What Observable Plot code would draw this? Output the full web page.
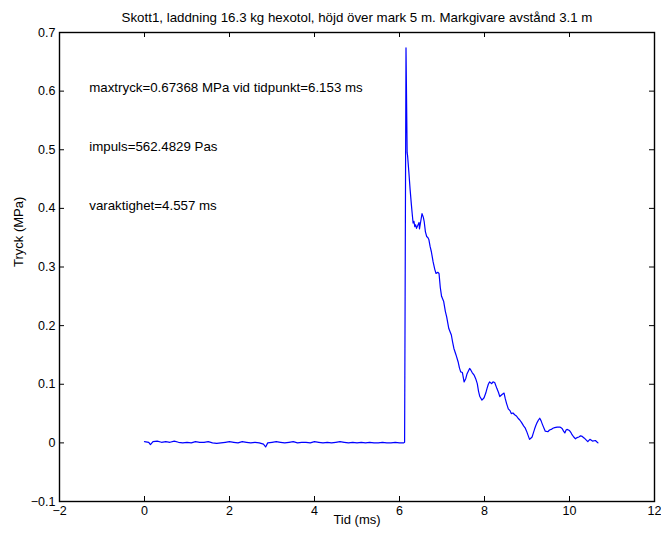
<!DOCTYPE html>
<html>
<head>
<meta charset="utf-8">
<script src="https://cdn.jsdelivr.net/npm/d3@7"></script>
<script src="https://cdn.jsdelivr.net/npm/@observablehq/plot@0.6"></script>
<style>
  html, body { margin: 0; padding: 0; background: #fff; }
</style>
</head>
<body>
<div id="chart"></div>
<script>
// Pressure trace, gauge at 3.1 m (time in ms, pressure in MPa)
const tid = [
  0.00, 0.10, 0.14, 0.20, 0.30, 0.40, 0.50, 0.60, 0.70, 0.80, 0.90,
  1.00, 1.10, 1.20, 1.30, 1.40, 1.50, 1.60, 1.70, 1.80, 1.90,
  2.00, 2.10, 2.20, 2.30, 2.40, 2.50, 2.60, 2.70, 2.80, 2.85, 2.90,
  3.00, 3.10, 3.20, 3.30, 3.40, 3.50, 3.60, 3.70, 3.80, 3.90,
  4.00, 4.10, 4.20, 4.30, 4.40, 4.50, 4.60, 4.70, 4.80, 4.90,
  5.00, 5.10, 5.20, 5.30, 5.40, 5.50, 5.60, 5.70, 5.80, 5.90,
  6.00, 6.10, 6.12, 6.153, 6.18, 6.19, 6.22, 6.25, 6.28, 6.30,
  6.32, 6.34, 6.36, 6.38, 6.40, 6.43, 6.46, 6.47, 6.50, 6.53,
  6.56, 6.58, 6.61, 6.64, 6.67, 6.69, 6.72, 6.75, 6.79, 6.83,
  6.86, 6.90, 6.93, 6.96, 6.99, 7.04, 7.08, 7.11, 7.16, 7.22,
  7.25, 7.28, 7.33, 7.38, 7.41, 7.44, 7.48, 7.52, 7.56, 7.59,
  7.65, 7.68, 7.71, 7.76, 7.80, 7.83, 7.86, 7.89, 7.94, 7.99,
  8.03, 8.06, 8.09, 8.12, 8.17, 8.20, 8.24, 8.29, 8.33, 8.36,
  8.42, 8.46, 8.49, 8.52, 8.56, 8.60, 8.63, 8.67, 8.71, 8.75,
  8.79, 8.83, 8.87, 8.92, 8.96, 8.99, 9.03, 9.06, 9.09, 9.12,
  9.15, 9.18, 9.21, 9.24, 9.27, 9.30, 9.33, 9.36, 9.40, 9.43,
  9.49, 9.53, 9.57, 9.61, 9.65, 9.71, 9.77, 9.80, 9.83, 9.86,
  9.89, 9.92, 9.94, 10.00, 10.03, 10.06, 10.10, 10.14, 10.18, 10.22,
  10.26, 10.30, 10.35, 10.39, 10.43, 10.48, 10.54, 10.61, 10.64, 10.67
];
const tryck = [
  0.002, 0.001, -0.003, 0.002, 0.003, 0.001, 0.002, 0.001, 0.003, 0.001, 0.000,
  0.001, 0.000, 0.002, 0.001, 0.001, 0.002, 0.000, -0.001, 0.000, 0.001,
  0.002, 0.001, 0.000, 0.002, 0.001, 0.000, 0.001, 0.000, -0.002, -0.007, 0.000,
  0.001, 0.002, 0.001, 0.000, 0.001, 0.002, 0.000, 0.001, 0.001, 0.000,
  0.002, 0.001, 0.000, 0.001, 0.000, 0.001, 0.002, 0.001, 0.000, 0.001,
  0.000, 0.001, 0.000, 0.001, 0.000, 0.000, 0.001, 0.000, 0.000, 0.001,
  0.000, 0.000, 0.001, 0.67368, 0.495, 0.490, 0.462, 0.432, 0.406, 0.390,
  0.375, 0.378, 0.369, 0.372, 0.366, 0.371, 0.376, 0.365, 0.378, 0.391,
  0.385, 0.378, 0.360, 0.352, 0.350, 0.347, 0.335, 0.326, 0.309, 0.296,
  0.289, 0.291, 0.289, 0.265, 0.250, 0.241, 0.224, 0.215, 0.195, 0.184,
  0.172, 0.161, 0.150, 0.138, 0.128, 0.121, 0.120, 0.104, 0.110, 0.118,
  0.127, 0.124, 0.120, 0.115, 0.108, 0.101, 0.088, 0.079, 0.073, 0.077,
  0.085, 0.093, 0.100, 0.104, 0.101, 0.104, 0.103, 0.093, 0.086, 0.079,
  0.083, 0.085, 0.075, 0.067, 0.058, 0.055, 0.050, 0.051, 0.048, 0.046,
  0.042, 0.039, 0.035, 0.029, 0.025, 0.020, 0.012, 0.006, 0.008, 0.010,
  0.017, 0.024, 0.030, 0.035, 0.039, 0.042, 0.038, 0.032, 0.025, 0.020,
  0.019, 0.022, 0.023, 0.025, 0.026, 0.027, 0.027, 0.026, 0.024, 0.020,
  0.017, 0.022, 0.023, 0.021, 0.018, 0.014, 0.010, 0.007, 0.009, 0.010,
  0.012, 0.011, 0.008, 0.005, 0.002, 0.006, 0.003, 0.004, 0.002, 0.000
];

const xTicks = [-2, 0, 2, 4, 6, 8, 10, 12];
const yTicks = [0.7, 0.6, 0.5, 0.4, 0.3, 0.2, 0.1, 0, -0.1];

const titel = "Skott1, laddning 16.3 kg hexotol, höjd över mark 5 m. Markgivare avstånd 3.1 m";
const xEtikett = "Tid (ms)";
const yEtikett = "Tryck (MPa)";

// Result annotations placed in data coordinates
const notiser = [
  {t: -1.3, p: 0.6, text: "maxtryck=0.67368 MPa vid tidpunkt=6.153 ms"},
  {t: -1.3, p: 0.5, text: "impuls=562.4829 Pas"},
  {t: -1.3, p: 0.4, text: "varaktighet=4.557 ms"}
];

const W = 661, H = 535;
const mT = 32, mR = 7, mB = 34, mL = 59;
const fw = W - mL - mR, fh = H - mT - mB;
const tickLen = 5;

const serie = tid.map((t, i) => ({t, p: tryck[i]}));
const font = "Liberation Sans, Arial, Helvetica, sans-serif";
const fmt = d => String(d).replace("-", "\u2212");

const chart = Plot.plot({
  width: W,
  height: H,
  marginTop: mT,
  marginRight: mR,
  marginBottom: mB,
  marginLeft: mL,
  style: {fontFamily: font, fontSize: "12.5px", background: "#fff", color: "#000"},
  x: {domain: [-2, 12]},
  y: {domain: [-0.1, 0.7]},
  marks: [
    // tick labels only; tick marks are drawn inward below
    Plot.axisX({ticks: xTicks, tickFormat: fmt, tickSize: 0, tickPadding: 5, label: null, fontSize: 12.5}),
    Plot.axisY({ticks: yTicks, tickFormat: fmt, tickSize: 0, tickPadding: 4, label: null, fontSize: 12.5}),
    // inward ticks on all four sides
    Plot.tickX(xTicks, {x: d => d, insetBottom: fh - tickLen, stroke: "#000", strokeWidth: 1}),
    Plot.tickX(xTicks, {x: d => d, insetTop: fh - tickLen, stroke: "#000", strokeWidth: 1}),
    Plot.tickY(yTicks, {y: d => d, insetRight: fw - tickLen, stroke: "#000", strokeWidth: 1}),
    Plot.tickY(yTicks, {y: d => d, insetLeft: fw - tickLen, stroke: "#000", strokeWidth: 1}),
    Plot.line(serie, {x: "t", y: "p", stroke: "#0000ff", strokeWidth: 1.2}),
    Plot.text(notiser, {x: "t", y: "p", dy: -3, text: "text", textAnchor: "start", fontSize: 13.3}),
    Plot.frame({stroke: "#000", strokeWidth: 1.4}),
    Plot.text([titel], {frameAnchor: "top", dy: -20, fontSize: 13.3}),
    Plot.text([xEtikett], {frameAnchor: "bottom", dy: 22, fontSize: 13}),
    Plot.text([yEtikett], {frameAnchor: "left", dx: -41, rotate: -90, fontSize: 13})
  ]
});

document.getElementById("chart").appendChild(chart);
</script>
</body>
</html>
